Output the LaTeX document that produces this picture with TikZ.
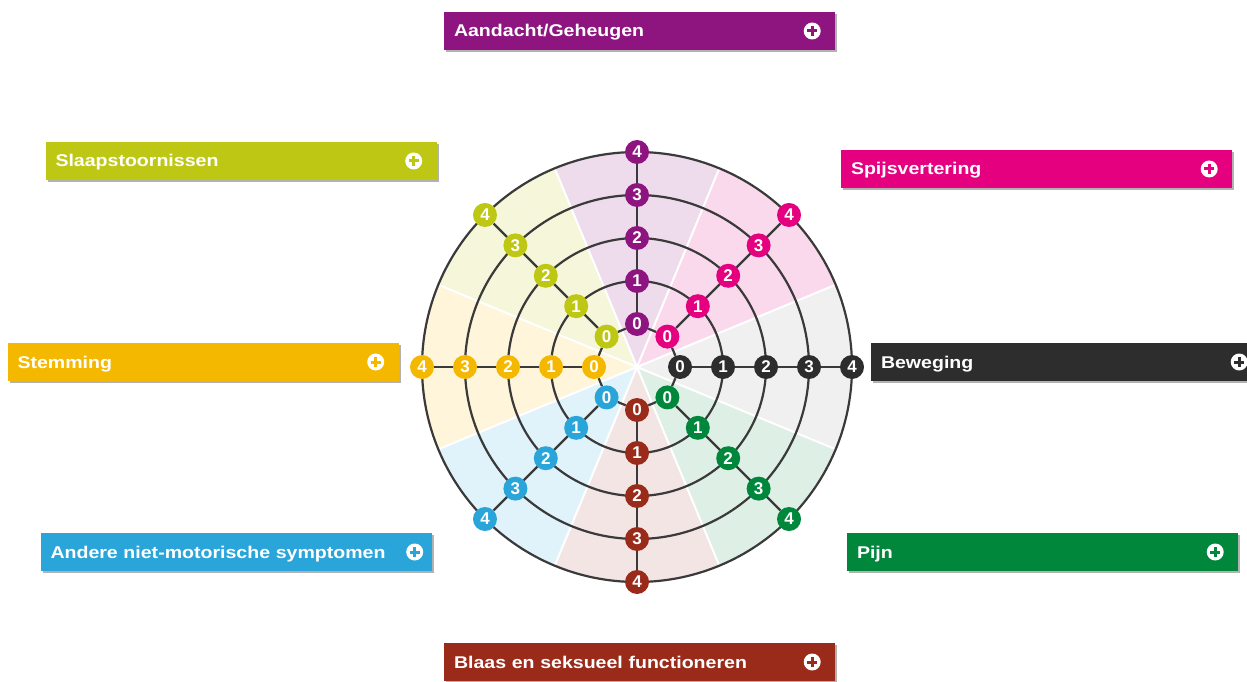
\documentclass[tikz,border=0pt]{standalone}
\usepackage{fontspec}
\setmainfont{Liberation Sans}
\newfontfamily\labelfont[FakeStretch=1.15]{Liberation Sans Bold}
\usetikzlibrary{positioning,backgrounds,shadows}

\definecolor{purpleC}{RGB}{142,21,128}
\definecolor{limeC}{RGB}{190,200,20}
\definecolor{pinkC}{RGB}{228,0,127}
\definecolor{yellowC}{RGB}{245,184,0}
\definecolor{darkC}{RGB}{45,45,45}
\definecolor{blueC}{RGB}{42,165,218}
\definecolor{greenC}{RGB}{0,135,60}
\definecolor{brownC}{RGB}{154,43,27}
\definecolor{ringC}{RGB}{58,58,58}

\begin{document}
\begin{tikzpicture}[x=1pt,y=1pt,
  cat box/.style={fill=#1,text=white,text width=371pt,inner xsep=10pt,inner ysep=0pt,minimum height=38pt,text height=12pt,text depth=0pt,align=left,font=\labelfont\fontsize{17}{17}\selectfont,drop shadow={shadow xshift=2pt,shadow yshift=-2pt,opacity=0.3,fill=black}},
  plus icon/.style={circle,fill=white,minimum size=17pt,inner sep=0pt,path picture={\draw[#1,line width=3pt] ([xshift=-5pt]path picture bounding box.center) -- ([xshift=5pt]path picture bounding box.center) ([yshift=-5pt]path picture bounding box.center) -- ([yshift=5pt]path picture bounding box.center);}},
  dot/.style={circle,fill=#1,minimum size=24pt,inner sep=0pt,text=white,font=\bfseries\fontsize{17}{17}\selectfont},
  ring/.style={draw=ringC,line width=2.2pt}]
\useasboundingbox (0,0) rectangle (1247,681);

% category boxes
\node[cat box=purpleC] (aandacht) at (639.5,650) {Aandacht/Geheugen};
\node[cat box=limeC] (slaap) at (241,520) {Slaapstoornissen};
\node[cat box=pinkC] (spijs) at (1036.5,512) {Spijsvertering};
\node[cat box=yellowC] (stemming) at (203,319) {Stemming};
\node[cat box=darkC] (beweging) at (1066.5,319) {Beweging};
\node[cat box=blueC] (andere) at (236,129) {Andere niet-motorische symptomen};
\node[cat box=greenC] (pijn) at (1042.5,129) {Pijn};
\node[cat box=brownC] (blaas) at (639.5,19) {Blaas en seksueel functioneren};

\node[plus icon=purpleC] at ([xshift=-23pt]aandacht.east) {};
\node[plus icon=limeC] at ([xshift=-23pt]slaap.east) {};
\node[plus icon=pinkC] at ([xshift=-23pt]spijs.east) {};
\node[plus icon=yellowC] at ([xshift=-23pt]stemming.east) {};
\node[plus icon=darkC] at ([xshift=-23pt]beweging.east) {};
\node[plus icon=blueC] at ([xshift=-17pt]andere.east) {};
\node[plus icon=greenC] at ([xshift=-23pt]pijn.east) {};
\node[plus icon=brownC] at ([xshift=-23pt]blaas.east) {};

\begin{scope}[shift={(637,314)}]
% score points
\foreach \name/\ang/\col in {aan/90/purpleC,spijs/45/pinkC,bew/0/darkC,pijn/-45/greenC,blaas/-90/brownC,andere/-135/blueC,stem/180/yellowC,slaap/135/limeC}
  \foreach \i in {0,...,4}
    \node[dot=\col] (\name\i) at (\ang:{43*(\i+1)}) {\i};

\begin{scope}[on background layer]
\foreach \ang/\col/\amt in {90/purpleC/15,45/pinkC/15,0/darkC/7,-45/greenC/13,-90/brownC/12,-135/blueC/14,180/yellowC/14,135/limeC/16}
  \fill[\col!\amt] (0,0) -- (\ang-22.5:215) arc[start angle=\ang-22.5,end angle=\ang+22.5,radius=215] -- cycle;
\foreach \ang in {22.5,67.5,...,337.5}
  \draw[white,line width=2pt] (0,0) -- (\ang:215);
\foreach \r in {86,129,172,215}
  \draw[ring] (0,0) circle[radius=\r];
\foreach \name in {aan,spijs,bew,pijn,blaas,andere,stem,slaap}
  \draw[ring] (\name0) -- (\name4);
\draw[ring] (aan0) -- (spijs0) -- (bew0) -- (pijn0) -- (blaas0) -- (andere0) -- (stem0) -- (slaap0) -- (aan0);
\end{scope}
\end{scope}
\end{tikzpicture}
\end{document}
